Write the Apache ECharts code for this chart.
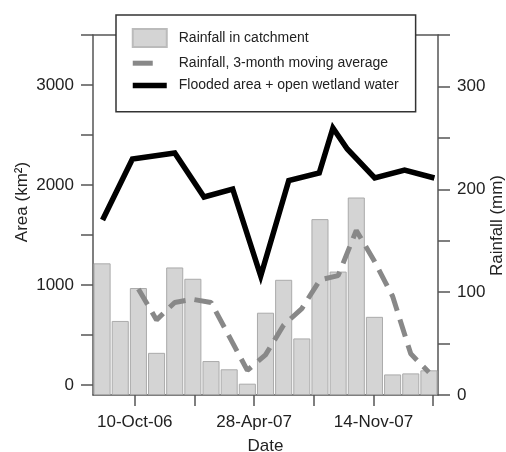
<!DOCTYPE html>
<html>
<head>
<meta charset="utf-8">
<script src="https://cdn.jsdelivr.net/npm/echarts@6/dist/echarts.min.js"></script>
<style>
html,body{margin:0;padding:0;background:#fff;}
#chart{width:506px;height:452px;}
</style>
</head>
<body>
<div id="chart"></div>
<script>
// ---- data ----
const months = ['Aug-06','Sep-06','Oct-06','Nov-06','Dec-06','Jan-07','Feb-07','Mar-07','Apr-07','May-07','Jun-07','Jul-07','Aug-07','Sep-07','Oct-07','Nov-07','Dec-07','Jan-08','Feb-08'];
const rainfall = [128, 72, 104, 41, 124, 113, 33, 25, 11, 80, 112, 55, 171, 120, 192, 76, 20, 21, 24];
const movingAvg = [null, null, 103, 73, 90, 93, 90, 57, 24, 39, 68, 84, 112, 116, 160, 130, 96, 40, 22];
const floodDates = ['2006-08-17','2006-10-06','2006-12-16','2007-02-03','2007-03-23','2007-05-09','2007-06-25','2007-08-15','2007-09-07','2007-10-01','2007-11-16','2008-01-05','2008-02-24'];
const floodArea = [1650, 2260, 2320, 1880, 1960, 1090, 2045, 2120, 2570, 2360, 2070, 2150, 2070];
const dateTicks = ['2006-10-10','2007-01-18','2007-04-28','2007-08-06','2007-11-14','2008-02-22'];
const dateLabels = ['2006-10-10','2007-04-28','2007-11-14'];
const areaTicks = [0, 500, 1000, 1500, 2000, 2500, 3000, 3500];
const areaLabels = [0, 1000, 2000, 3000];
const rainLabels = [0, 100, 200, 300];

const ts = s => { const p = s.split('-').map(Number); return Date.UTC(p[0], p[1]-1, p[2]); };
const MON = ['Jan','Feb','Mar','Apr','May','Jun','Jul','Aug','Sep','Oct','Nov','Dec'];
const fmtDate = v => { const d = new Date(v); return d.getUTCDate() + '-' + MON[d.getUTCMonth()] + '-' + String(d.getUTCFullYear()).slice(2); };

const FONT = "'Liberation Sans', Arial, Helvetica, sans-serif";
const AX = '#555';

const chart = echarts.init(document.getElementById('chart'), null, {renderer:'canvas'});
chart.setOption({
  animation: false,
  backgroundColor: '#fff',
  textStyle: {fontFamily: FONT},
  grid: {left: 93, right: 68, top: 35, bottom: 57, containLabel: false, outerBoundsMode: 'none'},
  legend: {
    left: 116, top: 15,
    orient: 'vertical',
    backgroundColor: '#fff',
    borderColor: '#333', borderWidth: 1.5,
    padding: [13, 17, 19, 14],
    itemGap: 8,
    itemWidth: 34, itemHeight: 18,
    textStyle: {fontSize: 14, color: '#222', fontFamily: FONT, padding: [0, 0, 0, 7]},
    data: [
      {name: 'Rainfall in catchment', icon: 'rect', itemStyle: {borderColor: '#bbb'}},
      {name: 'Rainfall, 3-month moving average', itemStyle: {opacity: 0}, lineStyle: {width: 5, color: '#888', type: [20, 30]}},
      {name: 'Flooded area + open wetland water', itemStyle: {opacity: 0}, lineStyle: {width: 5.5, color: '#000'}}
    ]
  },
  xAxis: [
    {
      type: 'value',
      min: ts('2006-08-01'), max: ts('2008-03-01'),
      name: 'Date', nameLocation: 'middle', nameGap: 43, nameMoveOverlap: false,
      nameTextStyle: {fontSize: 17, color: '#222', fontFamily: FONT},
      axisLine: {show: true, onZero: false, lineStyle: {color: AX, width: 1.5}},
      axisTick: {show: true, length: 11, lineStyle: {color: AX, width: 1.5}, customValues: dateTicks.map(ts)},
      axisLabel: {fontSize: 17, color: '#222', margin: 19, customValues: dateLabels.map(ts), formatter: v => fmtDate(v)},
      splitLine: {show: false}
    },
    {
      type: 'category',
      data: months,
      position: 'top',
      boundaryGap: true,
      axisLine: {show: true, onZero: false, lineStyle: {color: AX, width: 1.5}},
      axisTick: {show: false},
      axisLabel: {show: false},
      splitLine: {show: false}
    }
  ],
  yAxis: [
    {
      type: 'value', min: -100, max: 3500,
      name: 'Area (km²)', nameLocation: 'middle', nameGap: 62, nameRotate: 90, nameMoveOverlap: false,
      nameTextStyle: {fontSize: 17, color: '#222', fontFamily: FONT, padding: [0, 0, 0, 26]},
      axisLine: {show: true, onZero: false, lineStyle: {color: AX, width: 1.5}},
      axisTick: {show: true, length: 12, lineStyle: {color: AX, width: 1.5}, customValues: areaTicks},
      axisLabel: {fontSize: 17, color: '#222', margin: 19, customValues: areaLabels, formatter: v => String(v)},
      splitLine: {show: false}
    },
    {
      type: 'value', min: 0, max: 350, interval: 50, position: 'right',
      name: 'Rainfall (mm)', nameLocation: 'middle', nameGap: 51, nameRotate: 90, nameMoveOverlap: false,
      nameTextStyle: {fontSize: 17, color: '#222', fontFamily: FONT, padding: [0, 21, 0, 0]},
      axisLine: {show: true, onZero: false, lineStyle: {color: AX, width: 1.5}},
      axisTick: {show: true, length: 12, lineStyle: {color: AX, width: 1.5}},
      axisLabel: {fontSize: 17, color: '#222', margin: 19, customValues: rainLabels, formatter: v => String(v)},
      splitLine: {show: false}
    }
  ],
  series: [
    {
      name: 'Rainfall in catchment', type: 'bar',
      xAxisIndex: 1, yAxisIndex: 1,
      data: rainfall,
      barCategoryGap: '6%',
      itemStyle: {color: '#d4d4d4', borderColor: '#aaaaaa', borderWidth: 1},
      z: 1
    },
    {
      name: 'Rainfall, 3-month moving average', type: 'line',
      xAxisIndex: 1, yAxisIndex: 1,
      data: movingAvg,
      symbol: 'none', connectNulls: false,
      lineStyle: {color: '#888', width: 5, type: [18, 9]},
      itemStyle: {color: '#888'},
      z: 3
    },
    {
      name: 'Flooded area + open wetland water', type: 'line',
      xAxisIndex: 0, yAxisIndex: 0,
      data: floodDates.map((d, i) => [ts(d), floodArea[i]]),
      symbol: 'none',
      lineStyle: {color: '#000', width: 5.5, join: 'miter'},
      itemStyle: {color: '#000'},
      z: 4
    }
  ]
});
</script>
</body>
</html>
